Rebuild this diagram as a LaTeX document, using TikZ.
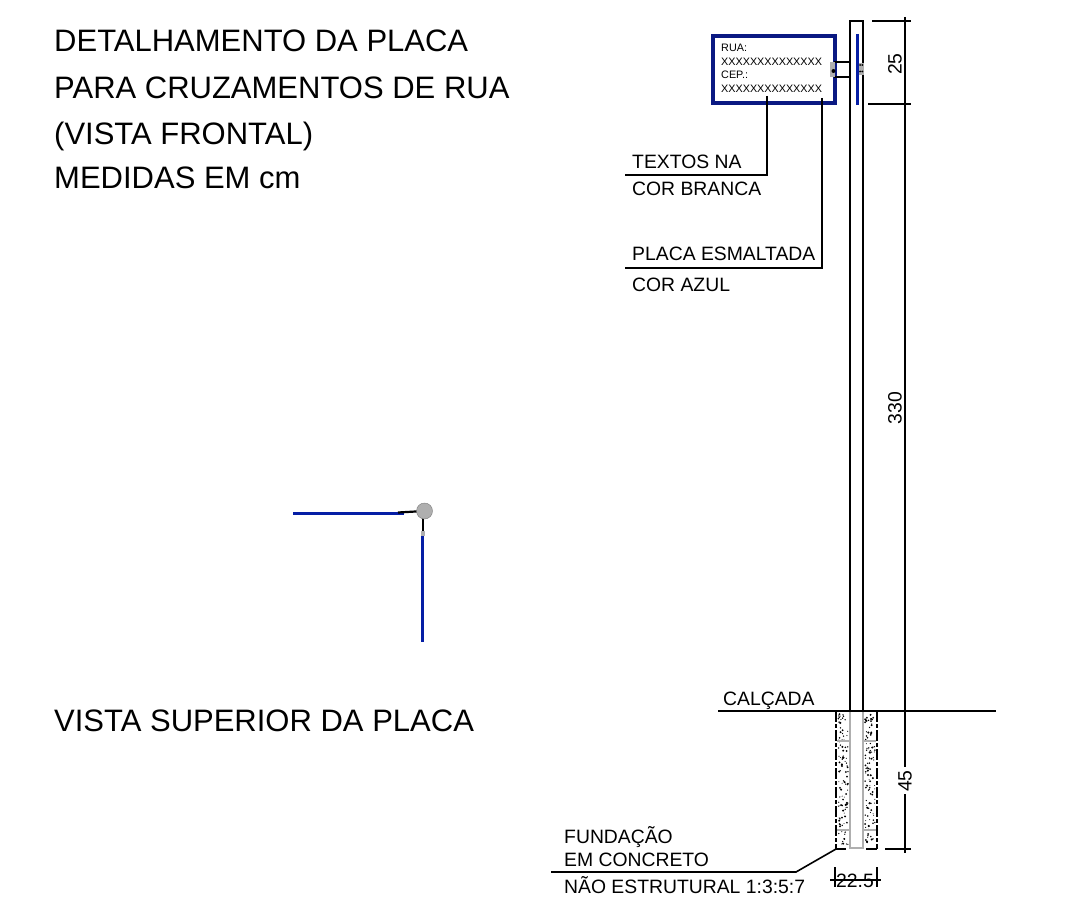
\documentclass[tikz,border=0pt]{standalone}
\usepackage{fontspec}
\setmainfont{Liberation Sans}
\definecolor{plateblue}{RGB}{5,30,165}
\definecolor{signblue}{RGB}{10,25,130}
\definecolor{bracket}{RGB}{175,175,175}
\tikzset{
  title/.style={anchor=base west,inner sep=0pt,font=\fontsize{31}{31}\selectfont,text=black},
  lbl/.style={anchor=base west,inner sep=0pt,font=\fontsize{19.35}{19.35}\selectfont,text=black},
  plate/.style={anchor=base west,inner sep=0pt,font=\fontsize{10.8}{10.8}\selectfont,text=black},
  dim/.style={inner sep=0pt,font=\fontsize{19.35}{19.35}\selectfont,text=black},
  ln/.style={draw=black,line width=1.6pt},
  tick/.style={draw=black,line width=1.6pt},
  tube/.style={draw=bracket,line width=1.5pt},
}
\begin{document}
\begin{tikzpicture}[x=1pt,y=-1pt]
\useasboundingbox (0,0) rectangle (1081,923);
% titles
\node[title] (t1) at (54,52) {DETALHAMENTO DA PLACA};
\node[title] (t2) at (54,99) {PARA CRUZAMENTOS DE RUA};
\node[title] (t3) at (54,144) {(VISTA FRONTAL)};
\node[title] (t4) at (54,188) {MEDIDAS EM cm};
\node[title] (t5) at (54,731) {VISTA SUPERIOR DA PLACA};
% pole
\draw[ln] (850,711) -- (850,21) -- (863,21) -- (863,711);
% sign
\node[draw=signblue,line width=4pt,minimum width=121.5pt,minimum height=67pt,inner sep=0pt,anchor=north west] (sign) at (711,34) {};
\node[plate] at (721,52) {RUA:};
\node[plate] at (721,66) {XXXXXXXXXXXXXX};
\node[plate] at (721,79) {CEP.:};
\node[plate] at (721,93) {XXXXXXXXXXXXXX};
% side plate and bracket
\draw[ln,line width=1.3pt] (834,62) -- (850,62) (834,77) -- (850,77);
\fill[bracket] (830,62) rectangle (835,77);
\fill[bracket] (857,63) rectangle (864,75);
\draw[plateblue,line width=3pt] (857,34) -- (857,105);
\fill[black] (833.5,71) circle (2);
\fill[black] (860,65) circle (1) (860,71.5) circle (1) (862.3,65) circle (1) (862.3,71.5) circle (1);
% leaders
\coordinate (a1) at (767,96);
\coordinate (a2) at (767,175);
\coordinate (a3) at (625,175);
\draw[ln] (a1) -- (a2) -- (a3);
\coordinate (b1) at (822,98);
\coordinate (b2) at (822,268);
\coordinate (b3) at (625,268);
\draw[ln] (b1) -- (b2) -- (b3);
\node[lbl] at (632,168) {TEXTOS NA};
\node[lbl] at (632,195) {COR BRANCA};
\node[lbl] at (632,260) {PLACA ESMALTADA};
\node[lbl] at (632,291) {COR AZUL};
% dimensions
\coordinate (d0) at (905,21);
\coordinate (d1) at (905,104);
\coordinate (d2) at (905,711);
\coordinate (d3) at (905,849);
\draw[ln] (d0) -- (d1);
\draw[ln] (d1) -- (d2);
\draw[ln] (d2) -- (905,767) (905,794) -- (d3);
\draw[ln] (872,21) -- (911,21);
\draw[ln] (868,104) -- (911,104);
\draw[ln] (885,849) -- (911,849);
\foreach \y in {21,104,711,849}{\draw[tick] (905,\y-4) -- (905,\y+4);}
\node[dim,rotate=90] at (895,64) {25};
\node[dim,rotate=90] at (895,408) {330};
\node[dim,rotate=90] at (905,781) {45};
% ground
\coordinate (g1) at (718,711);
\coordinate (g2) at (996,711);
\draw[ln] (g1) -- (g2);
\node[lbl] at (723,705) {CALÇADA};
% foundation
\draw[black,line width=1.7pt,dash pattern=on 11pt off 2pt on 4pt off 2pt] (836,711) -- (836,849);
\draw[black,line width=1.7pt,dash pattern=on 11pt off 2pt on 4pt off 2pt] (877,711) -- (877,849);
\draw[black,line width=1.6pt] (836,849) -- (846,849) (866,849) -- (877,849);
\pgfmathsetseed{42}
\foreach \i in {1,...,110}{
  \pgfmathsetmacro{\px}{838+10*rnd}
  \pgfmathsetmacro{\py}{714+132*rnd}
  \fill[black] (\px,\py) circle ({0.45+0.7*rnd});
}
\foreach \i in {1,...,110}{
  \pgfmathsetmacro{\px}{865+10*rnd}
  \pgfmathsetmacro{\py}{714+132*rnd}
  \fill[black] (\px,\py) circle ({0.45+0.7*rnd});
}
\draw[tube] (850,712) -- (850,848) -- (863,848) -- (863,712);
\draw[tube] (837,741) -- (850,741) (863,741) -- (876,741);
\draw[tube] (837,830) -- (850,830) (863,830) -- (876,830);
% foundation leader
\coordinate (f1) at (836,849);
\coordinate (f2) at (796,872);
\coordinate (f3) at (551,872);
\draw[ln] (f1) -- (f2) -- (f3);
\node[lbl] at (564,843) {FUNDAÇÃO};
\node[lbl] at (564,866) {EM CONCRETO};
\node[lbl] at (564,893) {NÃO ESTRUTURAL 1:3:5:7};
% width dim
\draw[ln] (830,880) -- (881,880);
\draw[ln] (835,867) -- (835,887) (877,867) -- (877,887);
\node[dim,anchor=base,inner sep=0pt] at (855,887) {22.5};
% top view
\coordinate (v0) at (424.5,511);
\draw[plateblue,line width=3pt] (293,513) -- (404,513);
\draw[plateblue,line width=3pt] (422,534) -- (422,642);
\draw[black,line width=2.2pt] (398,512.5) -- (v0);
\draw[black,line width=2.2pt] (423,511) -- (423,532);
\fill[bracket] (420.5,531) rectangle (424.5,536);
\node[circle,fill=bracket,draw=bracket!70!black,line width=.4pt,minimum size=16pt,inner sep=0pt] (post) at (v0) {};
\end{tikzpicture}
\end{document}
